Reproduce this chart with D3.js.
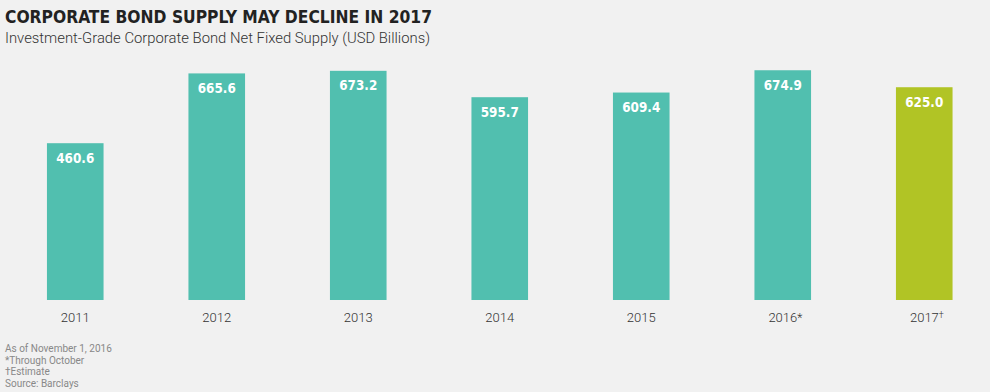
<!DOCTYPE html>
<html lang="en">
<head>
  <meta charset="UTF-8">
  <title>Corporate Bond Supply May Decline in 2017</title>
  <script src="https://d3js.org/d3.v7.min.js"></script>
  <style>
    body {
      margin: 0;
      background-color: #f1f1f1;
      font-family: Roboto, "Noto Sans", sans-serif;
    }
    svg { display: block; }
  </style>
</head>
<body>
  <svg id="chart" width="990" height="392"></svg>

  <script>
    // data
    const years = ["2011", "2012", "2013", "2014", "2015", "2016", "2017"];
    const marks = ["", "", "", "", "", "*", "\u2020"];
    const supply = [460.6, 665.6, 673.2, 595.7, 609.4, 674.9, 625.0];
    const estimate = [false, false, false, false, false, false, true];
    const notes = ["As of November 1, 2016", "*Through October", "\u2020Estimate", "Source: Barclays"];

    const data = years.map((y, i) => ({ year: y, mark: marks[i], value: supply[i], est: estimate[i] }));

    const svg = d3.select("#chart");

    // titles
    svg.append("text")
      .attr("x", 5).attr("y", 23)
      .attr("font-family", "'DejaVu Sans Condensed', 'DejaVu Sans', sans-serif")
      .attr("font-weight", "bold")
      .attr("font-size", 18)
      .attr("fill", "#222")
      .attr("textLength", 427).attr("lengthAdjust", "spacingAndGlyphs")
      .text("CORPORATE BOND SUPPLY MAY DECLINE IN 2017");

    svg.append("text")
      .attr("x", 5).attr("y", 43)
      .attr("font-size", 14.5)
      .attr("font-weight", 300)
      .attr("fill", "#333")
      .attr("textLength", 425).attr("lengthAdjust", "spacingAndGlyphs")
      .text("Investment-Grade Corporate Bond Net Fixed Supply (USD Billions)");

    // scales
    const x = d3.scaleBand()
      .domain(years)
      .range([4.5, 995])
      .paddingInner(0.6)
      .paddingOuter(0.3);

    const y = d3.scaleLinear()
      .domain([0, 700])
      .range([300, 61.7]);

    // bars
    svg.selectAll("rect.bar")
      .data(data)
      .enter().append("rect")
      .attr("class", "bar")
      .attr("x", d => x(d.year))
      .attr("y", d => y(d.value))
      .attr("width", x.bandwidth())
      .attr("height", d => y(0) - y(d.value))
      .attr("fill", d => d.est ? "#b1c425" : "#51bfaf");

    // value labels
    svg.selectAll("text.val")
      .data(data)
      .enter().append("text")
      .attr("class", "val")
      .attr("x", d => x(d.year) + x.bandwidth() / 2)
      .attr("y", d => y(d.value) + 19.5)
      .attr("text-anchor", "middle")
      .attr("font-family", "'DejaVu Sans Condensed', 'DejaVu Sans', sans-serif")
      .attr("font-weight", "bold")
      .attr("font-size", 14.5)
      .attr("fill", "#fff")
      .attr("textLength", 38).attr("lengthAdjust", "spacingAndGlyphs")
      .text(d => d.value.toFixed(1));

    // x axis labels
    const xAxis = svg.append("g")
      .attr("transform", "translate(0,300)")
      .call(d3.axisBottom(x).tickSize(0).tickPadding(22));
    xAxis.select(".domain").remove();
    xAxis.selectAll("text")
      .attr("dy", 0)
      .attr("font-family", "Roboto, sans-serif")
      .attr("font-size", 13)
      .attr("font-weight", 300)
      .attr("fill", "#333")
      .each(function(d, i) {
        if (!marks[i]) return;
        const t = d3.select(this);
        t.attr("dx", "0.2em");
        t.append("tspan")
          .attr("font-size", marks[i] === "*" ? 12 : 9)
          .attr("dy", marks[i] === "*" ? 0 : -4)
          .text(marks[i]);
      });

    // footnotes
    svg.selectAll("text.note")
      .data(notes)
      .enter().append("text")
      .attr("class", "note")
      .attr("x", 5)
      .attr("y", (d, i) => 352 + i * 11.5)
      .attr("font-size", 10)
      .attr("fill", "#888")
      .text(d => d);
  </script>
</body>
</html>
